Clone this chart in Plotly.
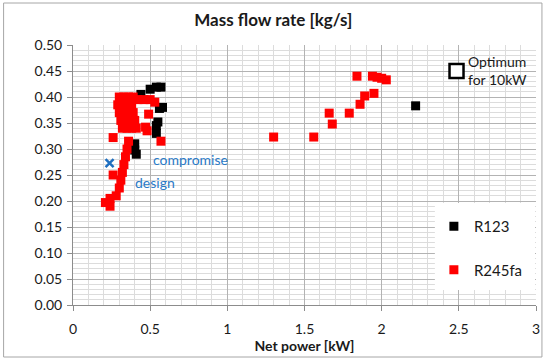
import plotly.graph_objects as go

# R123 (black) points: net power [kW], mass flow [kg/s]
r123_x = [0.44, 0.50, 0.54, 0.57, 0.58, 0.56, 0.55, 0.54, 0.54, 0.40, 0.40, 0.41, 2.22]
r123_y = [0.405, 0.415, 0.419, 0.419, 0.380, 0.378, 0.352, 0.345, 0.330, 0.310, 0.298, 0.290, 0.383]

# R245fa (red) points
r245_x = [0.30, 0.33, 0.36, 0.39, 0.42, 0.46, 0.50, 0.53,
          0.29, 0.32, 0.35, 0.38,
          0.30, 0.33, 0.36, 0.39, 0.49,
          0.31, 0.34, 0.37, 0.40,
          0.32, 0.35, 0.38, 0.41, 0.47, 0.48,
          0.26, 0.57,
          0.36, 0.35, 0.34, 0.33, 0.32, 0.26, 0.31, 0.30, 0.28, 0.24, 0.21, 0.24,
          1.30, 1.56, 1.66, 1.68, 1.79, 1.86, 1.89, 1.95, 1.84, 1.94, 1.97, 2.00, 2.03]
r245_y = [0.400, 0.400, 0.400, 0.400, 0.395, 0.395, 0.395, 0.390,
          0.385, 0.385, 0.385, 0.385,
          0.370, 0.370, 0.370, 0.370, 0.367,
          0.355, 0.355, 0.355, 0.355,
          0.340, 0.340, 0.340, 0.340, 0.342, 0.335,
          0.322, 0.315,
          0.315, 0.300, 0.285, 0.270, 0.255, 0.250, 0.240, 0.225, 0.210, 0.205, 0.197, 0.190,
          0.323, 0.323, 0.369, 0.348, 0.369, 0.386, 0.402, 0.407, 0.440, 0.440, 0.438, 0.436, 0.433]

compromise_x = [0.237]
compromise_y = [0.273]

optimum_x = [2.485]
optimum_y = [0.450]

FONT = "Lato"
TXT = "#1a1a1a"

fig = go.Figure()

fig.add_trace(go.Scatter(x=r123_x, y=r123_y, mode="markers", name="R123",
                         marker=dict(symbol="square", size=9, color="black"),
                         legendgroup="a"))
fig.add_trace(go.Scatter(x=r245_x, y=r245_y, mode="markers", name="R245fa",
                         marker=dict(symbol="square", size=9, color="#ff0000"),
                         legendgroup="b"))
fig.add_trace(go.Scatter(x=compromise_x, y=compromise_y, mode="markers", showlegend=False,
                         marker=dict(symbol="x-thin", size=8, color="#1f6fc0",
                                     line=dict(width=2.5, color="#1f6fc0"))))
fig.add_trace(go.Scatter(x=optimum_x, y=optimum_y, mode="markers", showlegend=False,
                         marker=dict(symbol="square", size=14, color="white",
                                     line=dict(width=2.5, color="black"))))

L, R, T, B = 73, 9, 45, 56
W, H = 549, 361
pw, ph = W - L - R, H - T - B

def px2paper_x(px):
    return (px - L) / pw

def px2paper_y(py):
    return (H - B - py) / ph

shapes = [
    # outer chart border
    dict(type="rect", xref="paper", yref="paper",
         x0=px2paper_x(3), x1=px2paper_x(546), y0=px2paper_y(357), y1=px2paper_y(3),
         line=dict(color="#a6a6a6", width=1), fillcolor="rgba(0,0,0,0)", layer="below"),
    # legend background box
    dict(type="rect", xref="paper", yref="paper",
         x0=px2paper_x(438), x1=px2paper_x(539), y0=px2paper_y(290), y1=px2paper_y(203),
         line=dict(width=0), fillcolor="white", layer="above"),
]

annotations = [
    dict(text="Optimum<br>for 10kW", x=2.545, y=0.451, xref="x", yref="y",
         xanchor="left", yanchor="middle", align="left", showarrow=False,
         font=dict(family=FONT, size=14, color=TXT)),
    dict(text="compromise", x=0.505, y=0.279, xref="x", yref="y",
         xanchor="left", yanchor="middle", showarrow=False,
         font=dict(family=FONT, size=14, color="#2a7ac7")),
    dict(text="design", x=0.39, y=0.235, xref="x", yref="y",
         xanchor="left", yanchor="middle", showarrow=False,
         font=dict(family=FONT, size=14, color="#2a7ac7")),
]

fig.update_layout(
    width=W, height=H,
    margin=dict(l=L, r=R, t=T, b=B),
    paper_bgcolor="white", plot_bgcolor="white",
    font=dict(family=FONT, size=13, color=TXT),
    title=dict(text="<b>Mass flow rate [kg/s]</b>", x=px2paper_x(275), xref="paper",
               xanchor="center", y=1 - 20 / H, yanchor="middle",
               font=dict(family=FONT, size=17, color=TXT)),
    showlegend=True,
    legend=dict(x=px2paper_x(437), y=px2paper_y(210), xanchor="left", yanchor="top",
                bgcolor="rgba(0,0,0,0)", borderwidth=0, tracegroupgap=21,
                font=dict(family=FONT, size=15, color=TXT)),
    shapes=shapes,
    annotations=annotations,
)

fig.update_xaxes(range=[0, 3], dtick=0.5, tick0=0, showgrid=True,
                 gridcolor="#b3b3b3", gridwidth=1,
                 minor=dict(dtick=0.1, showgrid=True, gridcolor="#dcdcdc", gridwidth=1),
                 showline=True, linecolor="#8c8c8c", linewidth=1,
                 ticks="outside", ticklen=5, tickcolor="#8c8c8c",
                 ticklabelstandoff=6,
                 zeroline=False, tickfont=dict(size=14),
                 title=dict(text="<b>Net power [kW]</b>", standoff=0,
                            font=dict(family=FONT, size=14, color=TXT)))
fig.update_yaxes(range=[0, 0.5], dtick=0.05, tick0=0, tickformat=".2f", showgrid=True,
                 gridcolor="#b3b3b3", gridwidth=1,
                 minor=dict(dtick=0.01, showgrid=True, gridcolor="#dcdcdc", gridwidth=1),
                 showline=True, linecolor="#8c8c8c", linewidth=1,
                 ticks="outside", ticklen=5, tickcolor="#8c8c8c",
                 ticklabelstandoff=2,
                 zeroline=False, tickfont=dict(size=14))

fig.write_html("out.html", config={"displayModeBar": False},
               post_script="document.body.style.margin='0px';")
